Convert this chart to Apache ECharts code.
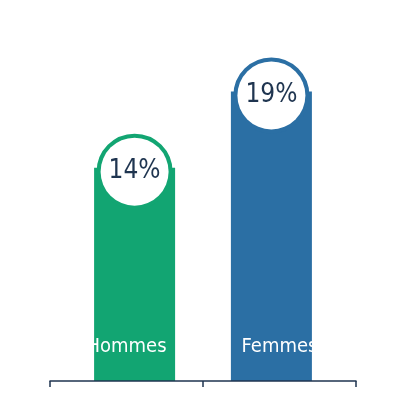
<!DOCTYPE html>
<html>
<head>
<meta charset="utf-8">
<script src="https://cdn.jsdelivr.net/npm/echarts@6/dist/echarts.min.js"></script>
<style>html,body{margin:0;padding:0;background:#fff;}</style>
</head>
<body>
<div id="chart" style="width:400px;height:400px;"></div>
<script>
var categories = ['Hommes', 'Femmes'];
var hommes = [14, '-'];
var femmes = ['-', 19];
var colors = ['#12a572', '#2b6fa4'];
var navy = '#1f3550';
var font = '"Liberation Sans Narrow", "DejaVu Sans Condensed", sans-serif';

function bubble(color) {
    return {
        show: true,
        position: 'top',
        distance: -38,
        formatter: '{c}%',
        width: 68,
        height: 68,
        lineHeight: 68,
        align: 'center',
        backgroundColor: '#fff',
        borderColor: color,
        borderWidth: 4,
        borderRadius: 38,
        color: navy,
        fontSize: 26,
        fontFamily: font
    };
}

var chart = echarts.init(document.getElementById('chart'));
chart.setOption({
    animation: false,
    grid: { left: 50, right: 44, top: 0, bottom: 19 },
    xAxis: {
        type: 'category',
        data: categories,
        z: 10,
        axisLine: { lineStyle: { color: navy, width: 1.5 } },
        axisTick: { show: true, length: 6, lineStyle: { color: navy, width: 1.5 } },
        axisLabel: { inside: true, margin: 24, color: '#fff', fontSize: 20, fontFamily: font }
    },
    yAxis: { type: 'value', min: 0, max: 25, show: false, splitLine: { show: false } },
    series: [
        { type: 'bar', data: femmes, barWidth: 81, barGap: '-80%', z: 2,
          itemStyle: { color: colors[1] }, label: bubble(colors[1]) },
        { type: 'bar', data: hommes, barWidth: 81, z: 2,
          itemStyle: { color: colors[0] }, label: bubble(colors[0]) }
    ]
});
</script>
</body>
</html>
